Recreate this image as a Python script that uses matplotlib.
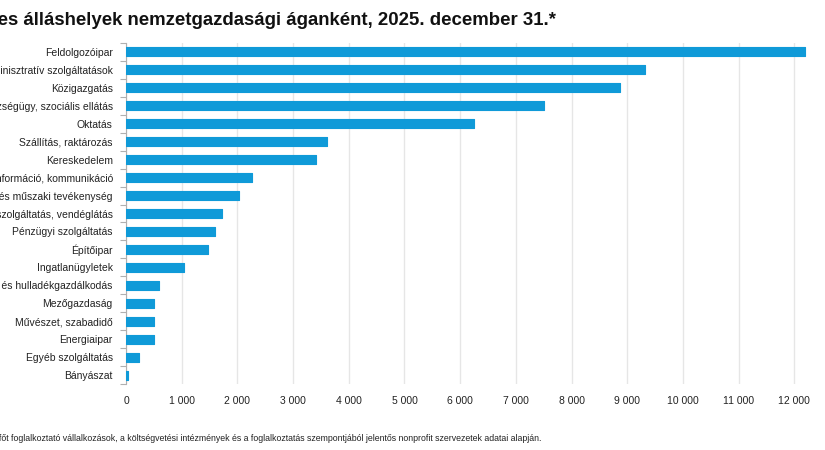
import matplotlib

matplotlib.use("Agg")
import matplotlib.pyplot as plt
from matplotlib.ticker import FuncFormatter, FixedLocator

plt.rcParams["font.family"] = ["Liberation Sans", "DejaVu Sans"]

categories = [
    "Feldolgozóipar",
    "Adminisztratív szolgáltatások",
    "Közigazgatás",
    "Egészségügy, szociális ellátás",
    "Oktatás",
    "Szállítás, raktározás",
    "Kereskedelem",
    "Információ, kommunikáció",
    "Szakmai, tudományos és műszaki tevékenység",
    "Szálláshely-szolgáltatás, vendéglátás",
    "Pénzügyi szolgáltatás",
    "Építőipar",
    "Ingatlanügyletek",
    "Víz- és hulladékgazdálkodás",
    "Mezőgazdaság",
    "Művészet, szabadidő",
    "Energiaipar",
    "Egyéb szolgáltatás",
    "Bányászat",
]
vacancies = [12190, 9320, 8870, 7500, 6250, 3610, 3410, 2270, 2030, 1720,
             1600, 1470, 1040, 590, 510, 500, 500, 230, 30]
x_ticks = list(range(0, 12001, 1000))

title = "Üres álláshelyek nemzetgazdasági áganként, 2025. december 31.*"
footnote = ("* A legalább 5 főt foglalkoztató vállalkozások, a költségvetési intézmények "
            "és a foglalkoztatás szempontjából jelentős nonprofit szervezetek adatai alapján.")

W, H = 825, 450
fig = plt.figure(figsize=(W / 100, H / 100), dpi=100)
ax = fig.add_axes([126 / W, (H - 384) / H, 685 / W, 341 / H])

n = len(categories)
ypos = list(range(n))
ax.barh(ypos, vacancies, height=0.5, color="#0f9ad8", edgecolor="#0f9ad8",
        linewidth=0.8, joinstyle="round", zorder=3)

ax.set_ylim(n - 0.5, -0.5)
ax.set_xlim(0, 12300)

ax.set_yticks(ypos)
ax.set_yticklabels(categories, fontsize=7.5, color="#222222")
ax.yaxis.set_minor_locator(FixedLocator([i - 0.5 for i in range(n + 1)]))
ax.tick_params(axis="y", which="major", length=0, pad=9.5)
ax.tick_params(axis="y", which="minor", length=4, color="#b0b0b0", width=0.8)

ax.set_xticks(x_ticks)
ax.xaxis.set_major_formatter(FuncFormatter(lambda v, _: f"{int(v):,}".replace(",", " ")))
ax.tick_params(axis="x", length=0, pad=9, labelsize=7.5, labelcolor="#222222")
ax.grid(axis="x", color="#e6e6e6", linewidth=1.0, zorder=0)

for side in ("top", "right", "bottom"):
    ax.spines[side].set_visible(False)
ax.spines["left"].set_color("#b0b0b0")
ax.spines["left"].set_linewidth(0.8)

fig.text(556 / W, 1 - 25 / H, title, ha="right", va="baseline",
         fontsize=13.45, fontweight="bold", color="#111111")
fig.text(541 / W, 1 - 441 / H, footnote, ha="right", va="baseline",
         fontsize=6.3, color="#222222")

fig.savefig("out.png", dpi=100)
